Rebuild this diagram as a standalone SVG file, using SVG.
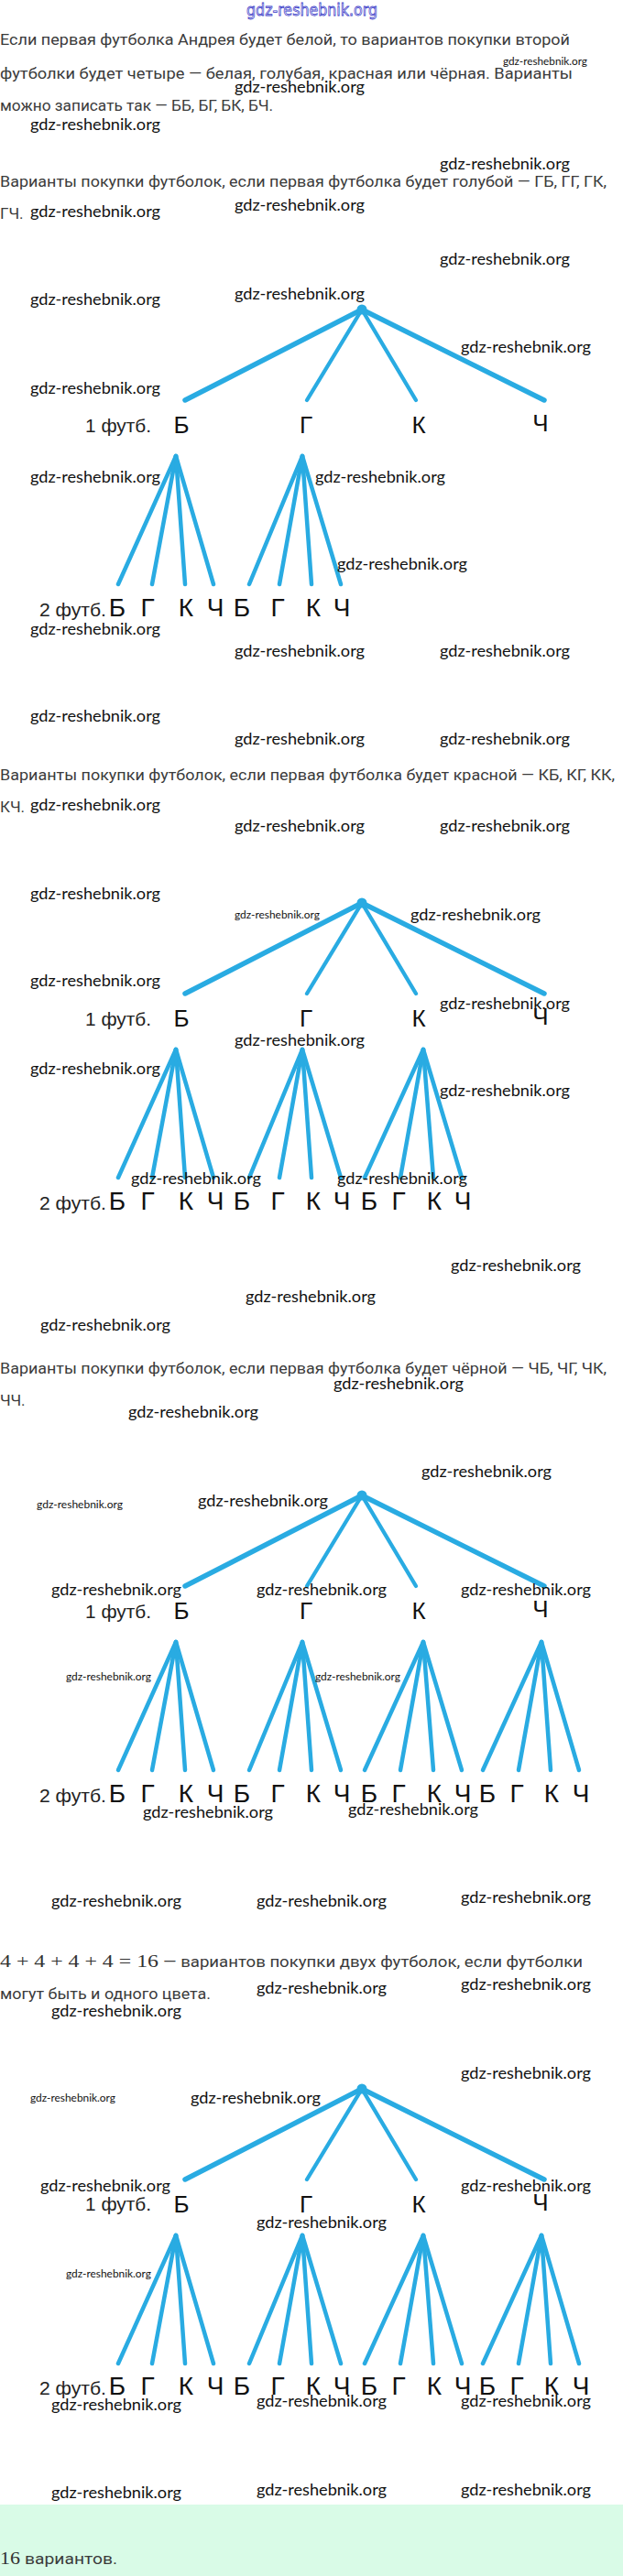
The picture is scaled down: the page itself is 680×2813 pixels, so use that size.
<svg xmlns="http://www.w3.org/2000/svg" width="680" height="2813" viewBox="0 0 680 2813">
<style>
.p{font-family:Roboto,"Liberation Sans",sans-serif;font-size:17px;fill:#3b3b3b}
.m{font-family:"Liberation Serif",serif;font-size:19px;fill:#333}
.wm{font-family:Lato,"Liberation Sans",sans-serif;font-size:17px;fill:#111}
.ws{font-family:Lato,"Liberation Sans",sans-serif;font-size:11px;fill:#111}
.hd{font-family:"DejaVu Sans","Liberation Sans",sans-serif;font-size:18px;fill:#fff;stroke:#3a3ac8;stroke-width:0.8}
.l1{font-family:"Liberation Sans",Arial,sans-serif;font-size:26px;fill:#111;text-anchor:middle}
.l2{font-family:"Liberation Sans",Arial,sans-serif;font-size:28px;fill:#111;text-anchor:middle}
.lb{font-family:"Liberation Sans",Arial,sans-serif;font-size:20px;fill:#222}
.e{stroke:#29abe2;stroke-width:4.5;stroke-linecap:round;fill:none}
.eo{stroke-width:5.5}
.ei{stroke-width:4.3}
.dot{fill:#29abe2}
</style>
<defs>
<g id="fan0" class="e"><line x1="192" y1="160" x2="129" y2="300"/><line x1="192" y1="160" x2="166" y2="300"/><line x1="192" y1="160" x2="202" y2="300"/><line x1="192" y1="160" x2="233" y2="300"/></g>
<g id="fan1" class="e"><line x1="330" y1="160" x2="272" y2="300"/><line x1="330" y1="160" x2="305" y2="300"/><line x1="330" y1="160" x2="340" y2="300"/><line x1="330" y1="160" x2="372" y2="300"/></g>
<g id="fan2" class="e"><line x1="462" y1="160" x2="398" y2="300"/><line x1="462" y1="160" x2="437" y2="300"/><line x1="462" y1="160" x2="473" y2="300"/><line x1="462" y1="160" x2="504" y2="300"/></g>
<g id="fan3" class="e"><line x1="591" y1="160" x2="527" y2="300"/><line x1="591" y1="160" x2="566" y2="300"/><line x1="591" y1="160" x2="601" y2="300"/><line x1="591" y1="160" x2="632" y2="300"/></g>
<g id="top" class="e"><line class="eo" x1="395" y1="0" x2="202" y2="99"/><line class="ei" x1="395" y1="0" x2="335" y2="99"/><line class="ei" x1="395" y1="0" x2="454" y2="99"/><line class="eo" x1="395" y1="0" x2="594" y2="99"/></g>
</defs>
<rect width="680" height="2813" fill="#fff"/>
<rect x="0" y="2735" width="680" height="78" fill="#d9fbe7"/>

<g id="texts">
<text class="hd" x="269" y="17" textLength="143" lengthAdjust="spacingAndGlyphs">gdz-reshebnik.org</text>
<text class="p" x="0" y="49" textLength="622" lengthAdjust="spacingAndGlyphs">Если первая футболка Андрея будет белой, то вариантов покупки второй</text>
<text class="p" x="0" y="86" textLength="625" lengthAdjust="spacingAndGlyphs">футболки будет четыре — белая, голубая, красная или чёрная. Варианты</text>
<text class="p" x="0" y="121" textLength="298" lengthAdjust="spacingAndGlyphs">можно записать так — ББ, БГ, БК, БЧ.</text>
<text class="p" x="0" y="204" textLength="662" lengthAdjust="spacingAndGlyphs">Варианты покупки футболок, если первая футболка будет голубой — ГБ, ГГ, ГК,</text>
<text class="p" x="0" y="239">ГЧ.</text>
<text class="p" x="0" y="852" textLength="671" lengthAdjust="spacingAndGlyphs">Варианты покупки футболок, если первая футболка будет красной — КБ, КГ, КК,</text>
<text class="p" x="0" y="887">КЧ.</text>
<text class="p" x="0" y="1500" textLength="662" lengthAdjust="spacingAndGlyphs">Варианты покупки футболок, если первая футболка будет чёрной — ЧБ, ЧГ, ЧК,</text>
<text class="p" x="0" y="1535">ЧЧ.</text>
<text class="m" x="0" y="2148" textLength="173" lengthAdjust="spacingAndGlyphs">4 + 4 + 4 + 4 = 16</text>
<text class="p" x="178" y="2148" textLength="458" lengthAdjust="spacingAndGlyphs">— вариантов покупки двух футболок, если футболки</text>
<text class="p" x="0" y="2183" textLength="230" lengthAdjust="spacingAndGlyphs">могут быть и одного цвета.</text>
<text class="m" x="0" y="2800" textLength="22" lengthAdjust="spacingAndGlyphs">16</text>
<text class="p" x="27" y="2800" textLength="101" lengthAdjust="spacingAndGlyphs">вариантов.</text>
</g>

<!-- Tree 1 -->
<g id="tree1" transform="translate(0,338)">
<g id="t1-connectors"><use href="#top"/><use href="#fan0"/><use href="#fan1"/></g>
<g id="t1-root"><circle class="dot" cx="395" cy="0" r="5.5"/></g>
<g id="t1-lab1"><text class="lb" x="93" y="134" textLength="72" lengthAdjust="spacingAndGlyphs">1 футб.</text></g>
<g id="t1-B"><text class="l1" x="198" y="135">Б</text></g>
<g id="t1-G"><text class="l1" x="334" y="135">Г</text></g>
<g id="t1-K"><text class="l1" x="457" y="135">К</text></g>
<g id="t1-CH"><text class="l1" x="590" y="133">Ч</text></g>
<g id="t1-lab2"><text class="lb" x="43" y="335" textLength="73" lengthAdjust="spacingAndGlyphs">2 футб.</text></g>
<g id="t1-BB"><text class="l2" x="128" y="335">Б</text></g>
<g id="t1-BG"><text class="l2" x="161" y="335">Г</text></g>
<g id="t1-BK"><text class="l2" x="203" y="335">К</text></g>
<g id="t1-BCH"><text class="l2" x="235" y="335">Ч</text></g>
<g id="t1-GB"><text class="l2" x="264" y="335">Б</text></g>
<g id="t1-GG"><text class="l2" x="303" y="335">Г</text></g>
<g id="t1-GK"><text class="l2" x="342" y="335">К</text></g>
<g id="t1-GCH"><text class="l2" x="373" y="335">Ч</text></g>
</g>

<!-- Tree 2 -->
<g id="tree2" transform="translate(0,986)">
<g id="t2-connectors"><use href="#top"/><use href="#fan0"/><use href="#fan1"/><use href="#fan2"/></g>
<g id="t2-root"><circle class="dot" cx="395" cy="0" r="5.5"/></g>
<g id="t2-lab1"><text class="lb" x="93" y="134" textLength="72" lengthAdjust="spacingAndGlyphs">1 футб.</text></g>
<g id="t2-B"><text class="l1" x="198" y="135">Б</text></g>
<g id="t2-G"><text class="l1" x="334" y="135">Г</text></g>
<g id="t2-K"><text class="l1" x="457" y="135">К</text></g>
<g id="t2-CH"><text class="l1" x="590" y="133">Ч</text></g>
<g id="t2-lab2"><text class="lb" x="43" y="335" textLength="73" lengthAdjust="spacingAndGlyphs">2 футб.</text></g>
<g id="t2-BB"><text class="l2" x="128" y="335">Б</text></g>
<g id="t2-BG"><text class="l2" x="161" y="335">Г</text></g>
<g id="t2-BK"><text class="l2" x="203" y="335">К</text></g>
<g id="t2-BCH"><text class="l2" x="235" y="335">Ч</text></g>
<g id="t2-GB"><text class="l2" x="264" y="335">Б</text></g>
<g id="t2-GG"><text class="l2" x="303" y="335">Г</text></g>
<g id="t2-GK"><text class="l2" x="342" y="335">К</text></g>
<g id="t2-GCH"><text class="l2" x="373" y="335">Ч</text></g>
<g id="t2-KB"><text class="l2" x="403" y="335">Б</text></g>
<g id="t2-KG"><text class="l2" x="435" y="335">Г</text></g>
<g id="t2-KK"><text class="l2" x="474" y="335">К</text></g>
<g id="t2-KCH"><text class="l2" x="505" y="335">Ч</text></g>
</g>

<!-- Tree 3 -->
<g id="tree3" transform="translate(0,1633)">
<g id="t3-connectors"><use href="#top"/><use href="#fan0"/><use href="#fan1"/><use href="#fan2"/><use href="#fan3"/></g>
<g id="t3-root"><circle class="dot" cx="395" cy="0" r="5.5"/></g>
<g id="t3-lab1"><text class="lb" x="93" y="134" textLength="72" lengthAdjust="spacingAndGlyphs">1 футб.</text></g>
<g id="t3-B"><text class="l1" x="198" y="135">Б</text></g>
<g id="t3-G"><text class="l1" x="334" y="135">Г</text></g>
<g id="t3-K"><text class="l1" x="457" y="135">К</text></g>
<g id="t3-CH"><text class="l1" x="590" y="133">Ч</text></g>
<g id="t3-lab2"><text class="lb" x="43" y="335" textLength="73" lengthAdjust="spacingAndGlyphs">2 футб.</text></g>
<g id="t3-BB"><text class="l2" x="128" y="335">Б</text></g>
<g id="t3-BG"><text class="l2" x="161" y="335">Г</text></g>
<g id="t3-BK"><text class="l2" x="203" y="335">К</text></g>
<g id="t3-BCH"><text class="l2" x="235" y="335">Ч</text></g>
<g id="t3-GB"><text class="l2" x="264" y="335">Б</text></g>
<g id="t3-GG"><text class="l2" x="303" y="335">Г</text></g>
<g id="t3-GK"><text class="l2" x="342" y="335">К</text></g>
<g id="t3-GCH"><text class="l2" x="373" y="335">Ч</text></g>
<g id="t3-KB"><text class="l2" x="403" y="335">Б</text></g>
<g id="t3-KG"><text class="l2" x="435" y="335">Г</text></g>
<g id="t3-KK"><text class="l2" x="474" y="335">К</text></g>
<g id="t3-KCH"><text class="l2" x="505" y="335">Ч</text></g>
<g id="t3-CHB"><text class="l2" x="532" y="335">Б</text></g>
<g id="t3-CHG"><text class="l2" x="564" y="335">Г</text></g>
<g id="t3-CHK"><text class="l2" x="602" y="335">К</text></g>
<g id="t3-CHCH"><text class="l2" x="634" y="335">Ч</text></g>
</g>

<!-- Tree 4 -->
<g id="tree4" transform="translate(0,2281)">
<g id="t4-connectors"><use href="#top"/><use href="#fan0"/><use href="#fan1"/><use href="#fan2"/><use href="#fan3"/></g>
<g id="t4-root"><circle class="dot" cx="395" cy="0" r="5.5"/></g>
<g id="t4-lab1"><text class="lb" x="93" y="133" textLength="72" lengthAdjust="spacingAndGlyphs">1 футб.</text></g>
<g id="t4-B"><text class="l1" x="198" y="135">Б</text></g>
<g id="t4-G"><text class="l1" x="334" y="135">Г</text></g>
<g id="t4-K"><text class="l1" x="457" y="135">К</text></g>
<g id="t4-CH"><text class="l1" x="590" y="133">Ч</text></g>
<g id="t4-lab2"><text class="lb" x="43" y="334" textLength="73" lengthAdjust="spacingAndGlyphs">2 футб.</text></g>
<g id="t4-BB"><text class="l2" x="128" y="334">Б</text></g>
<g id="t4-BG"><text class="l2" x="161" y="334">Г</text></g>
<g id="t4-BK"><text class="l2" x="203" y="334">К</text></g>
<g id="t4-BCH"><text class="l2" x="235" y="334">Ч</text></g>
<g id="t4-GB"><text class="l2" x="264" y="334">Б</text></g>
<g id="t4-GG"><text class="l2" x="303" y="334">Г</text></g>
<g id="t4-GK"><text class="l2" x="342" y="334">К</text></g>
<g id="t4-GCH"><text class="l2" x="373" y="334">Ч</text></g>
<g id="t4-KB"><text class="l2" x="403" y="334">Б</text></g>
<g id="t4-KG"><text class="l2" x="435" y="334">Г</text></g>
<g id="t4-KK"><text class="l2" x="474" y="334">К</text></g>
<g id="t4-KCH"><text class="l2" x="505" y="334">Ч</text></g>
<g id="t4-CHB"><text class="l2" x="532" y="334">Б</text></g>
<g id="t4-CHG"><text class="l2" x="564" y="334">Г</text></g>
<g id="t4-CHK"><text class="l2" x="602" y="334">К</text></g>
<g id="t4-CHCH"><text class="l2" x="634" y="334">Ч</text></g>
</g>

<g id="watermarks">
<text class="ws" x="549" y="71" textLength="92" lengthAdjust="spacingAndGlyphs">gdz-reshebnik.org</text>
<text class="wm" x="256" y="101" textLength="142" lengthAdjust="spacingAndGlyphs">gdz-reshebnik.org</text>
<text class="wm" x="33" y="142" textLength="142" lengthAdjust="spacingAndGlyphs">gdz-reshebnik.org</text>
<text class="wm" x="480" y="185" textLength="142" lengthAdjust="spacingAndGlyphs">gdz-reshebnik.org</text>
<text class="wm" x="256" y="230" textLength="142" lengthAdjust="spacingAndGlyphs">gdz-reshebnik.org</text>
<text class="wm" x="33" y="237" textLength="142" lengthAdjust="spacingAndGlyphs">gdz-reshebnik.org</text>
<text class="wm" x="480" y="289" textLength="142" lengthAdjust="spacingAndGlyphs">gdz-reshebnik.org</text>
<text class="wm" x="33" y="333" textLength="142" lengthAdjust="spacingAndGlyphs">gdz-reshebnik.org</text>
<text class="wm" x="256" y="327" textLength="142" lengthAdjust="spacingAndGlyphs">gdz-reshebnik.org</text>
<text class="wm" x="503" y="385" textLength="142" lengthAdjust="spacingAndGlyphs">gdz-reshebnik.org</text>
<text class="wm" x="33" y="430" textLength="142" lengthAdjust="spacingAndGlyphs">gdz-reshebnik.org</text>
<text class="wm" x="33" y="527" textLength="142" lengthAdjust="spacingAndGlyphs">gdz-reshebnik.org</text>
<text class="wm" x="344" y="527" textLength="142" lengthAdjust="spacingAndGlyphs">gdz-reshebnik.org</text>
<text class="wm" x="368" y="622" textLength="142" lengthAdjust="spacingAndGlyphs">gdz-reshebnik.org</text>
<text class="wm" x="33" y="693" textLength="142" lengthAdjust="spacingAndGlyphs">gdz-reshebnik.org</text>
<text class="wm" x="256" y="717" textLength="142" lengthAdjust="spacingAndGlyphs">gdz-reshebnik.org</text>
<text class="wm" x="480" y="717" textLength="142" lengthAdjust="spacingAndGlyphs">gdz-reshebnik.org</text>
<text class="wm" x="33" y="788" textLength="142" lengthAdjust="spacingAndGlyphs">gdz-reshebnik.org</text>
<text class="wm" x="256" y="813" textLength="142" lengthAdjust="spacingAndGlyphs">gdz-reshebnik.org</text>
<text class="wm" x="480" y="813" textLength="142" lengthAdjust="spacingAndGlyphs">gdz-reshebnik.org</text>
<text class="wm" x="33" y="885" textLength="142" lengthAdjust="spacingAndGlyphs">gdz-reshebnik.org</text>
<text class="wm" x="256" y="908" textLength="142" lengthAdjust="spacingAndGlyphs">gdz-reshebnik.org</text>
<text class="wm" x="480" y="908" textLength="142" lengthAdjust="spacingAndGlyphs">gdz-reshebnik.org</text>
<text class="wm" x="33" y="982" textLength="142" lengthAdjust="spacingAndGlyphs">gdz-reshebnik.org</text>
<text class="ws" x="256" y="1003" textLength="93" lengthAdjust="spacingAndGlyphs">gdz-reshebnik.org</text>
<text class="wm" x="448" y="1005" textLength="142" lengthAdjust="spacingAndGlyphs">gdz-reshebnik.org</text>
<text class="wm" x="33" y="1077" textLength="142" lengthAdjust="spacingAndGlyphs">gdz-reshebnik.org</text>
<text class="wm" x="480" y="1102" textLength="142" lengthAdjust="spacingAndGlyphs">gdz-reshebnik.org</text>
<text class="wm" x="256" y="1142" textLength="142" lengthAdjust="spacingAndGlyphs">gdz-reshebnik.org</text>
<text class="wm" x="33" y="1173" textLength="142" lengthAdjust="spacingAndGlyphs">gdz-reshebnik.org</text>
<text class="wm" x="480" y="1197" textLength="142" lengthAdjust="spacingAndGlyphs">gdz-reshebnik.org</text>
<text class="wm" x="143" y="1293" textLength="142" lengthAdjust="spacingAndGlyphs">gdz-reshebnik.org</text>
<text class="wm" x="368" y="1293" textLength="142" lengthAdjust="spacingAndGlyphs">gdz-reshebnik.org</text>
<text class="wm" x="492" y="1388" textLength="142" lengthAdjust="spacingAndGlyphs">gdz-reshebnik.org</text>
<text class="wm" x="268" y="1422" textLength="142" lengthAdjust="spacingAndGlyphs">gdz-reshebnik.org</text>
<text class="wm" x="44" y="1453" textLength="142" lengthAdjust="spacingAndGlyphs">gdz-reshebnik.org</text>
<text class="wm" x="364" y="1517" textLength="142" lengthAdjust="spacingAndGlyphs">gdz-reshebnik.org</text>
<text class="wm" x="140" y="1548" textLength="142" lengthAdjust="spacingAndGlyphs">gdz-reshebnik.org</text>
<text class="wm" x="460" y="1613" textLength="142" lengthAdjust="spacingAndGlyphs">gdz-reshebnik.org</text>
<text class="ws" x="40" y="1647" textLength="94" lengthAdjust="spacingAndGlyphs">gdz-reshebnik.org</text>
<text class="wm" x="216" y="1645" textLength="142" lengthAdjust="spacingAndGlyphs">gdz-reshebnik.org</text>
<text class="wm" x="56" y="1742" textLength="142" lengthAdjust="spacingAndGlyphs">gdz-reshebnik.org</text>
<text class="wm" x="280" y="1742" textLength="142" lengthAdjust="spacingAndGlyphs">gdz-reshebnik.org</text>
<text class="wm" x="503" y="1742" textLength="142" lengthAdjust="spacingAndGlyphs">gdz-reshebnik.org</text>
<text class="ws" x="72" y="1835" textLength="93" lengthAdjust="spacingAndGlyphs">gdz-reshebnik.org</text>
<text class="ws" x="344" y="1835" textLength="93" lengthAdjust="spacingAndGlyphs">gdz-reshebnik.org</text>
<text class="wm" x="156" y="1985" textLength="142" lengthAdjust="spacingAndGlyphs">gdz-reshebnik.org</text>
<text class="wm" x="380" y="1982" textLength="142" lengthAdjust="spacingAndGlyphs">gdz-reshebnik.org</text>
<text class="wm" x="56" y="2082" textLength="142" lengthAdjust="spacingAndGlyphs">gdz-reshebnik.org</text>
<text class="wm" x="280" y="2082" textLength="142" lengthAdjust="spacingAndGlyphs">gdz-reshebnik.org</text>
<text class="wm" x="503" y="2078" textLength="142" lengthAdjust="spacingAndGlyphs">gdz-reshebnik.org</text>
<text class="wm" x="280" y="2177" textLength="142" lengthAdjust="spacingAndGlyphs">gdz-reshebnik.org</text>
<text class="wm" x="503" y="2173" textLength="142" lengthAdjust="spacingAndGlyphs">gdz-reshebnik.org</text>
<text class="wm" x="56" y="2202" textLength="142" lengthAdjust="spacingAndGlyphs">gdz-reshebnik.org</text>
<text class="wm" x="503" y="2270" textLength="142" lengthAdjust="spacingAndGlyphs">gdz-reshebnik.org</text>
<text class="ws" x="33" y="2295" textLength="93" lengthAdjust="spacingAndGlyphs">gdz-reshebnik.org</text>
<text class="wm" x="208" y="2297" textLength="142" lengthAdjust="spacingAndGlyphs">gdz-reshebnik.org</text>
<text class="wm" x="44" y="2393" textLength="142" lengthAdjust="spacingAndGlyphs">gdz-reshebnik.org</text>
<text class="wm" x="503" y="2393" textLength="142" lengthAdjust="spacingAndGlyphs">gdz-reshebnik.org</text>
<text class="wm" x="280" y="2433" textLength="142" lengthAdjust="spacingAndGlyphs">gdz-reshebnik.org</text>
<text class="ws" x="72" y="2487" textLength="93" lengthAdjust="spacingAndGlyphs">gdz-reshebnik.org</text>
<text class="wm" x="56" y="2632" textLength="142" lengthAdjust="spacingAndGlyphs">gdz-reshebnik.org</text>
<text class="wm" x="280" y="2628" textLength="142" lengthAdjust="spacingAndGlyphs">gdz-reshebnik.org</text>
<text class="wm" x="503" y="2628" textLength="142" lengthAdjust="spacingAndGlyphs">gdz-reshebnik.org</text>
<text class="wm" x="56" y="2728" textLength="142" lengthAdjust="spacingAndGlyphs">gdz-reshebnik.org</text>
<text class="wm" x="280" y="2725" textLength="142" lengthAdjust="spacingAndGlyphs">gdz-reshebnik.org</text>
<text class="wm" x="503" y="2725" textLength="142" lengthAdjust="spacingAndGlyphs">gdz-reshebnik.org</text>
</g>
</svg>
